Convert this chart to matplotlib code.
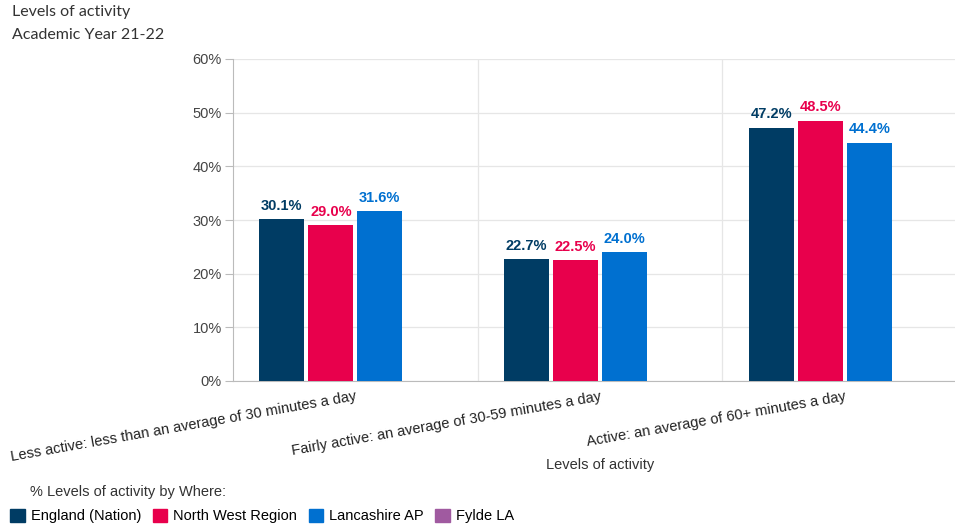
import numpy as np
import matplotlib
matplotlib.use("Agg")
import matplotlib.pyplot as plt
from matplotlib.patches import Patch

categories = ["Less active: less than an average of 30 minutes a day",
              "Fairly active: an average of 30-59 minutes a day",
              "Active: an average of 60+ minutes a day"]
series = ["England (Nation)", "North West Region", "Lancashire AP", "Fylde LA"]
england = [30.1, 22.7, 47.2]
north_west = [29.0, 22.5, 48.5]
lancashire = [31.6, 24.0, 44.4]
fylde = [None, None, None]
colors = ["#003c64", "#e8004c", "#0070d0", "#a05aa0"]

plt.rcParams['font.family'] = ['Liberation Sans', 'DejaVu Sans']

fig = plt.figure(figsize=(9.55, 5.26), dpi=100)
ax = fig.add_axes([233 / 955, 1 - 381 / 526, 1 - 233 / 955, 322 / 526])

x = np.arange(len(categories))
w = 0.184
step = 0.2
for i, (vals, c) in enumerate(zip([england, north_west, lancashire, fylde], colors)):
    off = (i - 1.5) * step
    for xi, v in zip(x, vals):
        if v is None:
            continue
        ax.bar(xi + off, v, width=w, color=c, zorder=3)
        ax.text(xi + off, v + 1.2, "%.1f%%" % v, ha='center', va='bottom',
                color=c, fontsize=10.5, fontweight='bold')

ax.set_ylim(0, 60)
ax.set_xlim(-0.5, 2.45)
ax.set_yticks(range(0, 61, 10))
ax.set_yticklabels(["%d%%" % t for t in range(0, 61, 10)], color="#444444", fontsize=10.5)
ax.yaxis.grid(True, color="#e6e6e6", lw=0.9, zorder=0)
for b in [0.5, 1.5]:
    ax.axvline(b, color="#e6e6e6", lw=0.9, zorder=0)
ax.set_xticks(x)
ax.set_xticklabels(categories, rotation=10, ha='right', rotation_mode='anchor',
                   fontsize=10.5, color="#222222")
ax.tick_params(axis='x', length=0, pad=6)
ax.tick_params(axis='y', length=6, color="#bbbbbb", pad=2)
for s in ['top', 'right']:
    ax.spines[s].set_visible(False)
ax.spines['left'].set_color("#bbbbbb")
ax.spines['bottom'].set_color("#bbbbbb")

fig.text(12 / 955, 1 - 12 / 526, "Levels of activity", fontsize=11.5, color="#333333",
         family=['Lato', 'DejaVu Sans'], va='center')
fig.text(12 / 955, 1 - 35 / 526, "Academic Year 21-22", fontsize=11.5, color="#333333",
         family=['Lato', 'DejaVu Sans'], va='center')
fig.text(600 / 955, 1 - 465 / 526, "Levels of activity", fontsize=10.5, color="#333333",
         ha='center', va='center')
fig.text(30 / 955, 1 - 492 / 526, "% Levels of activity by Where:", fontsize=10.5,
         color="#333333", va='center')

handles = [Patch(color=c, label=s) for s, c in zip(series, colors)]
fig.legend(handles=handles, loc='center left', bbox_to_anchor=(0.0, 1 - 516 / 526),
           ncol=4, frameon=False, fontsize=10.5, handlelength=1.0, handleheight=1.0,
           handletextpad=0.4, columnspacing=0.8, borderpad=0.2)

fig.savefig("out.png", dpi=100)
